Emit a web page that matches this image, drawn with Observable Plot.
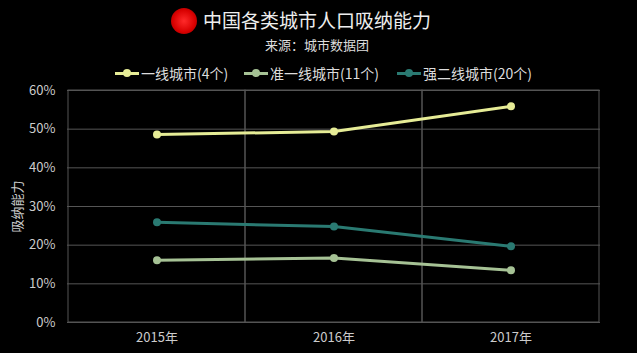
<!DOCTYPE html>
<html>
<head>
<meta charset="utf-8">
<script src="https://cdn.jsdelivr.net/npm/d3@7"></script>
<script src="https://cdn.jsdelivr.net/npm/@observablehq/plot@0.6"></script>
<style>
  body { margin:0; background:#000; width:637px; height:353px; overflow:hidden; font-family:"Noto Sans CJK SC","Noto Sans",sans-serif; }
  #head { position:relative; height:72px; }
  #logo { position:absolute; left:171px; top:8px; width:26px; height:26px; border-radius:50%; background:radial-gradient(circle,#ff2a2a 0%,#d80000 60%,#8a0000 100%); }
  #title { position:absolute; left:203px; top:6px; font-size:19px; color:#eee; white-space:nowrap; line-height:28px; }
  #sub { position:absolute; left:265px; top:36px; font-size:13px; color:#ddd; white-space:nowrap; line-height:18px; }
  #legend { position:absolute; top:64px; left:0; width:637px; height:18px; z-index:2; }
  #chart { position:relative; z-index:1; }
  .item { position:absolute; display:flex; align-items:center; font-size:14px; color:#ddd; white-space:nowrap; line-height:18px; }
  .mk { position:relative; width:24px; height:18px; margin-right:2px; }
  .mk .ln { position:absolute; left:0; right:0; top:8px; height:3px; }
  .mk .dt { position:absolute; left:8px; top:5px; width:8px; height:8px; border-radius:50%; }
</style>
</head>
<body>
<div id="head">
  <div id="logo"></div>
  <div id="title">中国各类城市人口吸纳能力</div>
  <div id="sub">来源：城市数据团</div>
  <div id="legend"></div>
</div>
<div id="chart"></div>
<script>
const years = ["2015年", "2016年", "2017年"];
const seriesNames = ["一线城市(4个)", "准一线城市(11个)", "强二线城市(20个)"];
const tier1 = [0.486, 0.494, 0.559];
const quasiTier1 = [0.161, 0.167, 0.135];
const strongTier2 = [0.259, 0.248, 0.197];
const seriesColors = ["#e6ec96", "#a6c295", "#2a7a72"];
const yTicks = [0, 0.1, 0.2, 0.3, 0.4, 0.5, 0.6];

const seriesValues = [tier1, quasiTier1, strongTier2];
const data = [];
seriesNames.forEach((s, i) => years.forEach((y, j) => data.push({series: s, year: y, value: seriesValues[i][j]})));

// legend
const legendX = [115, 244, 397];
const legend = document.getElementById("legend");
seriesNames.forEach((s, i) => {
  const it = document.createElement("div");
  it.className = "item";
  it.style.left = legendX[i] + "px";
  it.innerHTML = `<span class="mk"><span class="ln" style="background:${seriesColors[i]}"></span><span class="dt" style="background:${seriesColors[i]}"></span></span><span>${s}</span>`;
  legend.appendChild(it);
});

const chart = Plot.plot({
  width: 637,
  height: 281,
  marginTop: 18,
  marginLeft: 67,
  marginRight: 37,
  marginBottom: 31,
  style: {background: "transparent", color: "#ccc", fontSize: "13px", fontFamily: "'Noto Sans CJK SC','Noto Sans',sans-serif"},
  x: {type: "band", domain: years, padding: 0, label: null},
  y: {domain: [0, 0.6], label: null},
  color: {domain: seriesNames, range: seriesColors},
  marks: [
    Plot.ruleY(yTicks, {stroke: "#555", strokeWidth: 1}),
    Plot.barY(years, {x: d => d, y1: 0, y2: 0.6, fill: "none", stroke: "#555", strokeWidth: 1}),
    Plot.axisY({ticks: yTicks, tickFormat: d3.format(".0%"), tickSize: 0, tickPadding: 12, label: "吸纳能力", labelAnchor: "center", labelArrow: "none", labelOffset: 55}),
    Plot.axisX({tickSize: 0, tickPadding: 10, label: null}),
    Plot.line(data, {x: "year", y: "value", z: "series", stroke: "series", strokeWidth: 3}),
    Plot.dot(data, {x: "year", y: "value", fill: "series", r: 4})
  ]
});
document.getElementById("chart").appendChild(chart);
</script>
</body>
</html>
